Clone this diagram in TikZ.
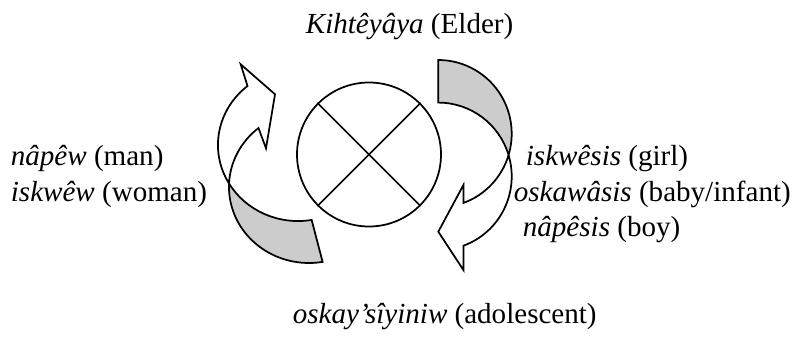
\documentclass[tikz,border=0pt]{standalone}
\usepackage{fontspec}
\setmainfont{Liberation Serif}
\newcommand\cyclefont{\fontsize{21.8pt}{26pt}\selectfont}
\tikzset{
  front/.style={draw, fill=white},
  back/.style={draw, fill=black!20},
}
\begin{document}
\begin{tikzpicture}[x=0.75pt, y=-0.75pt, line width=1.3pt]
      \useasboundingbox (0,0) rectangle (798,344);

      % medicine wheel
      \node[circle, draw, minimum size=108pt, inner sep=0pt] (wheel) at (369,154.5) {};
      \draw (wheel.north west) -- (wheel.south east);
      \draw (wheel.north east) -- (wheel.south west);

      % left arrow, going up
      \draw[back] (229.1,183.6) arc[start angle=149.5, end angle=80.2, x radius=80, y radius=76]
        -- (322.6,261.9) arc[start angle=80.2, end angle=182.6, x radius=80, y radius=76] -- cycle;
      \draw[front] (247.5,86) arc[start angle=230.9, end angle=149.5, x radius=80, y radius=76]
        arc[start angle=182.6, end angle=230.9, x radius=80, y radius=76]
        -- (266,148.3) -- (275,94.3) -- (240.7,64.3) -- cycle;

      % right arrow, going down
      \draw[back] (438.3,60) arc[start angle=-90, end angle=16.8, x radius=73.4, y radius=73.7]
        arc[start angle=-16.8, end angle=-90, x radius=73.4, y radius=73.7] -- cycle;
      \draw[front] (508.6,155) arc[start angle=16.8, end angle=70, x radius=73.4, y radius=73.7]
        -- (463.4,185) -- (438.3,231.7) -- (463.4,270) -- (463.4,245.7)
        arc[start angle=70, end angle=-16.8, x radius=73.4, y radius=73.7] -- cycle;

      \begin{scope}[every node/.style={inner sep=0pt, anchor=base west, font=\cyclefont}]
        \node (elder) at (305,33.3)  {\textit{Kihtêyâya} (Elder)};
        \node (man)   at (10,165)    {\textit{nâpêw} (man)};
        \node (woman) at (10,201.5)  {\textit{iskwêw} (woman)};
        \node (girl)  at (525,165)   {\textit{iskwêsis} (girl)};
        \node (baby)  at (513,201.5) {\textit{oskawâsis} (baby/infant)};
        \node (boy)   at (522,236)   {\textit{nâpêsis} (boy)};
        \node (teen)  at (292,323)   {\textit{oskay’sîyiniw} (adolescent)};
      \end{scope}

    \end{tikzpicture}
\end{document}
